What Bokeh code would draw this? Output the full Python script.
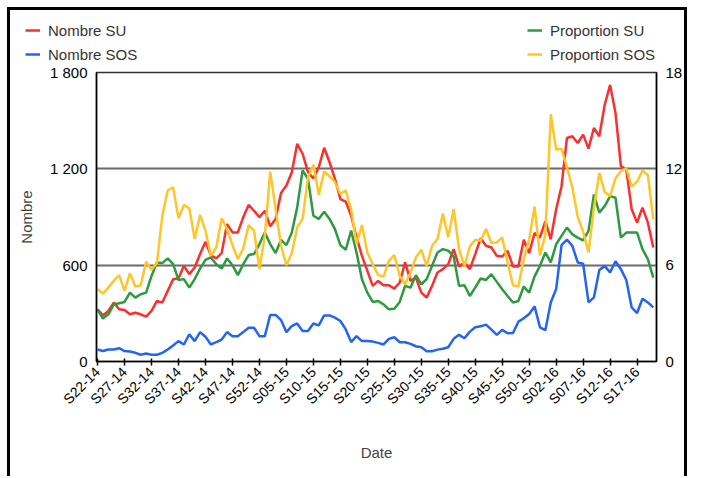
from bokeh.plotting import figure
from bokeh.models import Range1d, LinearAxis, FixedTicker, Legend, LegendItem
from bokeh.embed import file_html
from bokeh.resources import INLINE
import math

# x tick labels (one every 5 weeks, starting at the first week S22-14)
tick_labels = ["S22-14", "S27-14", "S32-14", "S37-14", "S42-14", "S47-14", "S52-14",
               "S05-15", "S10-15", "S15-15", "S20-15", "S25-15", "S30-15", "S35-15",
               "S40-15", "S45-15", "S50-15", "S02-16", "S07-16", "S12-16", "S17-16"]
tick_step = 5

y_left_ticks = [0, 600, 1200, 1800]
y_left_labels = ["0", "600", "1 200", "1 800"]
y_right_ticks = [0, 6, 12, 18]

nombre_su = [325, 287, 315, 367, 325, 321, 294, 304, 294, 279,
             315, 377, 367, 440, 512, 517, 596, 544, 585, 669,
             746, 662, 642, 675, 856, 804, 804, 898, 975, 939,
             898, 939, 842, 887, 1050, 1096, 1179, 1356, 1294, 1179,
             1141, 1210, 1331, 1241, 1137, 1012, 996, 908, 773, 658,
             564, 471, 502, 475, 475, 454, 492, 617, 502, 523,
             429, 398, 471, 554, 575, 606, 700, 592, 617, 575,
             669, 767, 721, 710, 658, 654, 689, 592, 592, 758,
             675, 800, 772, 875, 761, 948, 1092, 1392, 1403, 1361,
             1413, 1326, 1454, 1403, 1599, 1723, 1548, 1217, 1196, 948,
             865, 958, 865, 710]

nombre_sos = [75, 65, 75, 75, 83, 65, 62, 54, 42, 50,
              42, 42, 54, 75, 100, 127, 106, 169, 127, 183,
              154, 106, 121, 137, 183, 158, 158, 183, 210, 210,
              158, 158, 290, 290, 258, 183, 221, 237, 190, 190,
              237, 225, 287, 287, 273, 252, 200, 121, 158, 127,
              127, 124, 116, 106, 141, 151, 120, 120, 110, 95,
              89, 64, 64, 74, 79, 89, 141, 166, 145, 186,
              213, 219, 230, 199, 166, 197, 176, 178, 248, 269,
              296, 343, 213, 195, 368, 451, 725, 759, 720, 617,
              609, 368, 399, 570, 594, 555, 624, 575, 508, 337,
              302, 391, 368, 337]

proportion_su = [3.25, 2.67, 2.94, 3.56, 3.63, 3.71, 4.29, 3.98, 4.19, 4.29,
                 5.33, 6.17, 6.13, 6.42, 6.06, 5.08, 5.13, 4.6, 5.13, 5.79,
                 6.33, 6.48, 6.06, 5.79, 6.42, 6.0, 5.38, 6.06, 6.63, 6.69,
                 7.31, 8.04, 7.31, 6.75, 7.58, 7.25, 8.04, 9.6, 11.9, 11.38,
                 9.08, 8.88, 9.33, 8.88, 8.25, 7.25, 6.96, 8.15, 6.79, 5.13,
                 4.29, 3.71, 3.77, 3.56, 3.25, 3.29, 3.71, 4.71, 4.6, 5.38,
                 4.81, 5.13, 5.96, 6.79, 7.0, 6.9, 6.54, 4.71, 4.75, 4.08,
                 4.6, 5.17, 5.08, 5.44, 4.96, 4.5, 4.08, 3.67, 3.77, 4.67,
                 4.29, 5.3, 5.96, 6.79, 6.17, 7.3, 7.82, 8.34, 7.92, 7.72,
                 7.55, 8.13, 10.4, 9.27, 9.68, 10.3, 10.2, 7.72, 8.03, 8.03,
                 8.03, 7.0, 6.37, 5.23]

proportion_sos = [4.5, 4.23, 4.6, 5.02, 5.38, 4.4, 5.5, 4.67, 4.75, 6.21,
                  5.71, 6.13, 9.08, 10.65, 10.85, 8.92, 9.75, 9.54, 7.63, 9.13,
                  8.15, 6.58, 7.1, 8.92, 8.25, 7.25, 6.38, 7.04, 8.5, 8.15,
                  5.75, 7.83, 11.83, 9.5, 7.21, 6.0, 6.75, 8.35, 8.88, 11.48,
                  12.25, 10.38, 11.83, 11.54, 11.17, 10.44, 10.65, 9.46, 7.31, 8.5,
                  6.79, 6.06, 5.38, 5.29, 6.27, 6.63, 5.33, 4.81, 5.54, 6.48,
                  6.96, 5.96, 7.21, 7.63, 9.21, 7.73, 9.5, 7.0, 5.92, 7.17,
                  7.58, 7.52, 8.25, 7.38, 7.42, 7.73, 6.17, 4.75, 4.67, 6.38,
                  7.6, 9.65, 6.6, 7.9, 15.4, 13.2, 13.25, 12.1, 10.85, 9.0,
                  8.1, 6.8, 9.55, 11.75, 10.55, 10.3, 11.4, 11.85, 12.05, 10.9,
                  11.2, 11.9, 11.6, 8.85]

RED = "#ff2e2e"
BLUE = "#2563f4"
GREEN = "#2e9a40"
YELLOW = "#ffc628"
FONT = "Liberation Sans"
LW = 2.5
BORDER = "3px solid black"

x = list(range(len(nombre_su)))

# ---------- main chart ----------
p = figure(width=680, height=414, output_backend="svg", toolbar_location=None,
           x_range=Range1d(-0.2, len(x) - 0.4), y_range=Range1d(0, 1800),
           min_border_left=86, min_border_right=34, min_border_top=10,
           min_border_bottom=115)
p.extra_y_ranges = {"prop": Range1d(0, 18)}
p.styles = {"border-left": BORDER, "border-right": BORDER, "margin-left": "7px"}

p.outline_line_color = "#333333"
p.outline_line_width = 1.5
p.background_fill_color = "white"
p.border_fill_color = "white"

p.xgrid.visible = False
p.ygrid.ticker = FixedTicker(ticks=[600, 1200])
p.ygrid.grid_line_color = "#6b6b6b"
p.ygrid.grid_line_width = 2

xa = p.xaxis[0]
xa.ticker = FixedTicker(ticks=[i * tick_step for i in range(len(tick_labels))])
xa.major_label_overrides = {i * tick_step: lab for i, lab in enumerate(tick_labels)}
xa.major_label_orientation = math.pi / 4
xa.axis_label = "Date"
xa.minor_tick_line_color = None
xa.major_tick_in = 3
xa.major_tick_out = 4
xa.major_tick_line_width = 1.5
xa.axis_line_width = 1.5
xa.axis_line_color = "black"
xa.major_label_text_font = FONT
xa.major_label_text_font_size = "14px"
xa.major_label_text_color = "black"
xa.major_label_standoff = 4
xa.axis_label_text_font = FONT
xa.axis_label_text_font_size = "15px"
xa.axis_label_text_font_style = "normal"
xa.axis_label_text_color = "#444444"
xa.axis_label_standoff = 28

ya = p.yaxis[0]
ya.ticker = FixedTicker(ticks=y_left_ticks)
ya.major_label_overrides = {t: l for t, l in zip(y_left_ticks, y_left_labels)}
ya.axis_label = "Nombre"
ya.minor_tick_line_color = None
ya.major_tick_in = 0
ya.major_tick_out = 0
ya.axis_line_width = 1.5
ya.axis_line_color = "black"
ya.major_label_text_font = FONT
ya.major_label_text_font_size = "15px"
ya.major_label_text_color = "black"
ya.major_label_standoff = 9
ya.axis_label_text_font = FONT
ya.axis_label_text_font_size = "15px"
ya.axis_label_text_font_style = "normal"
ya.axis_label_text_color = "#444444"
ya.axis_label_standoff = 12

ra = LinearAxis(y_range_name="prop", ticker=FixedTicker(ticks=y_right_ticks))
ra.minor_tick_line_color = None
ra.major_tick_in = 0
ra.major_tick_out = 0
ra.axis_line_width = 1.5
ra.axis_line_color = "black"
ra.major_label_text_font = FONT
ra.major_label_text_font_size = "15px"
ra.major_label_text_color = "black"
ra.major_label_standoff = 9
p.add_layout(ra, "right")

p.line(x, nombre_su, line_color=RED, line_width=LW)
p.line(x, nombre_sos, line_color=BLUE, line_width=LW)
p.line(x, proportion_su, line_color=GREEN, line_width=LW, y_range_name="prop")
p.line(x, proportion_sos, line_color=YELLOW, line_width=LW, y_range_name="prop")

# ---------- legend strip above the chart (separate root, no frame alignment) ----------
lf = figure(width=680, height=55, output_backend="svg", toolbar_location=None,
            x_range=Range1d(-1000, -999), y_range=Range1d(-1000, -999),
            x_axis_location=None, y_axis_location=None, min_border=0)
lf.grid.visible = False
lf.outline_line_color = None
lf.background_fill_color = "white"
lf.border_fill_color = "white"
lf.styles = {"border-top": BORDER, "border-left": BORDER, "border-right": BORDER,
             "margin-left": "7px", "margin-top": "7px"}

# legend proxies: same series, but outside this strip's ranges (not visible)
l_su = lf.line(x, nombre_su, line_color=RED, line_width=LW)
l_sos = lf.line(x, nombre_sos, line_color=BLUE, line_width=LW)
l_psu = lf.line(x, proportion_su, line_color=GREEN, line_width=LW)
l_psos = lf.line(x, proportion_sos, line_color=YELLOW, line_width=LW)


def make_legend(items, loc):
    lg = Legend(items=items, location=loc)
    lg.border_line_color = None
    lg.background_fill_alpha = 0
    lg.padding = 0
    lg.margin = 0
    lg.spacing = 4
    lg.label_height = 20
    lg.glyph_height = 20
    lg.glyph_width = 15
    lg.label_standoff = 8
    lg.label_text_font = FONT
    lg.label_text_font_size = "15px"
    lg.label_text_color = "#333333"
    return lg


lf.add_layout(make_legend([LegendItem(label="Nombre SU", renderers=[l_su]),
                           LegendItem(label="Nombre SOS", renderers=[l_sos])], (15, 1)))
lf.add_layout(make_legend([LegendItem(label="Proportion SU", renderers=[l_psu]),
                           LegendItem(label="Proportion SOS", renderers=[l_psos])], (517, 1)))

open("out.html", "w").write(file_html([lf, p], INLINE))
